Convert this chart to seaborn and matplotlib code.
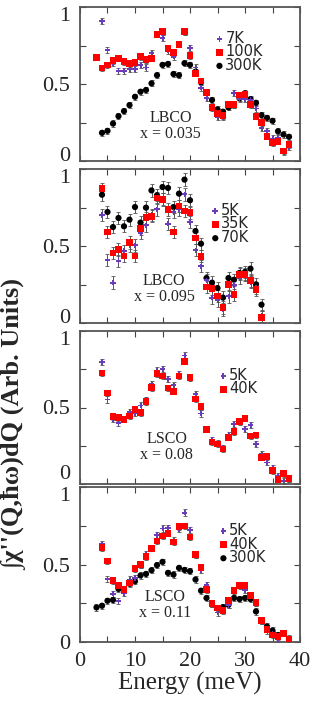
import numpy as np
import seaborn as sns
import matplotlib.pyplot as plt
import matplotlib.ticker as tkr

sns.set_style("ticks")
plt.rcParams["font.family"] = ["Liberation Serif", "DejaVu Serif"]

# panel 1: LBCO x = 0.035
p1_e_7K = list(range(4, 39))
p1_7K = [0.907, 0.72, 0.635, 0.587, 0.587, 0.596, 0.596, 0.624, 0.607, 0.70, 0.826, 0.80, 0.717, 0.678, 0.759,
         0.839, 0.733, 0.607, 0.476, 0.41, 0.348, 0.283, 0.283, 0.363, 0.443, 0.40, 0.40, 0.396, 0.341, 0.215,
         0.193, 0.146, 0.152, 0.059, 0.091]
p1_e_100K = list(range(3, 39))
p1_100K = [0.674, 0.604, 0.624, 0.652, 0.667, 0.646, 0.633, 0.641, 0.678, 0.657, 0.667, 0.824, 0.839, 0.733,
           0.704, 0.759, 0.839, 0.685, 0.57, 0.52, 0.446, 0.346, 0.309, 0.293, 0.367, 0.367, 0.428, 0.433,
           0.367, 0.291, 0.25, 0.161, 0.12, 0.128, 0.065, 0.107]
p1_e_300K = list(range(4, 39))
p1_300K = [0.183, 0.196, 0.243, 0.291, 0.324, 0.363, 0.417, 0.45, 0.461, 0.504, 0.557, 0.624, 0.63, 0.565,
           0.557, 0.635, 0.624, 0.58, 0.511, 0.446, 0.396, 0.335, 0.32, 0.348, 0.367, 0.407, 0.439, 0.402,
           0.378, 0.298, 0.28, 0.261, 0.193, 0.172, 0.157]

# panel 2: LBCO x = 0.095
p2_e = list(range(4, 34))
p2_5K = [0.70, 0.411, 0.262, 0.403, 0.468, 0.504, 0.504, 0.584, 0.634, 0.70, 0.738, 0.803, 0.645, 0.721, 0.738,
         0.835, 0.656, 0.472, 0.368, 0.277, 0.165, 0.147, 0.087, 0.173, 0.245, 0.294, 0.31, 0.266, 0.229, 0.045]
p2_35K = [0.872, 0.591, 0.455, 0.478, 0.435, 0.522, 0.435, 0.613, 0.684, 0.693, 0.812, 0.801, 0.738, 0.591,
          0.76, 0.727, 0.716, 0.552, 0.433, 0.234, 0.223, 0.175, 0.10, 0.249, 0.184, 0.316, 0.316, 0.277,
          0.216, 0.035]
p2_70K = [0.833, 0.721, 0.623, 0.682, 0.628, 0.671, 0.753, 0.652, 0.749, 0.861, 0.829, 0.883, 0.877, 0.753,
          0.84, 0.931, 0.797, 0.597, 0.515, 0.292, 0.262, 0.227, 0.165, 0.292, 0.281, 0.325, 0.331, 0.353,
          0.251, 0.119]

# panel 3: LSCO x = 0.08
p3_e = list(range(4, 39))
p3_5K = [0.797, 0.552, 0.422, 0.40, 0.422, 0.472, 0.465, 0.513, 0.548, 0.656, 0.742, 0.753, 0.688, 0.645,
         0.721, 0.84, 0.70, 0.591, 0.461, 0.357, 0.288, 0.266, 0.234, 0.32, 0.39, 0.413, 0.359, 0.385, 0.26,
         0.197, 0.141, 0.104, 0.05, 0.017, 0.032]
p3_40K = [0.725, 0.595, 0.439, 0.433, 0.422, 0.444, 0.487, 0.465, 0.537, 0.63, 0.721, 0.706, 0.628, 0.606,
          0.706, 0.803, 0.695, 0.556, 0.504, 0.357, 0.275, 0.262, 0.229, 0.305, 0.342, 0.407, 0.429, 0.314,
          0.32, 0.175, 0.18, 0.087, 0.032, 0.067, 0.035]

# panel 4: LSCO x = 0.11
p4_e = list(range(4, 39))
p4_5K = [0.63, 0.409, 0.312, 0.262, 0.316, 0.403, 0.413, 0.50, 0.569, 0.608, 0.69, 0.732, 0.734, 0.656, 0.727,
         0.835, 0.721, 0.565, 0.463, 0.366, 0.247, 0.19, 0.208, 0.24, 0.333, 0.366, 0.333, 0.305, 0.251,
         0.139, 0.074, 0.05, 0.017, 0.056, 0.024]
p4_40K = [0.608, 0.522, 0.396, 0.366, 0.338, 0.381, 0.474, 0.50, 0.55, 0.604, 0.652, 0.684, 0.701, 0.645,
          0.745, 0.749, 0.677, 0.565, 0.483, 0.338, 0.247, 0.219, 0.203, 0.268, 0.331, 0.364, 0.364, 0.299,
          0.255, 0.139, 0.082, 0.045, 0.035, 0.056, 0.019]
p4_e_300K = list(range(3, 39))
p4_300K = [0.223, 0.234, 0.266, 0.271, 0.342, 0.342, 0.377, 0.392, 0.429, 0.439, 0.463, 0.496, 0.517, 0.446,
           0.435, 0.478, 0.465, 0.457, 0.403, 0.331, 0.284, 0.247, 0.219, 0.225, 0.24, 0.284, 0.277, 0.284,
           0.277, 0.197, 0.139, 0.10, 0.074, 0.045, 0.056, 0.019]

# rough error bar size per panel
panel_err = [0.02, 0.04, 0.02, 0.02]

y_ticks = [0, 0.25, 0.5, 0.75, 1]
y_tick_labels = ["0", "", "0.5", "", "1"]

PURPLE = "#6a3db8"
styles = {
    "low": dict(marker="P", color=PURPLE, s=16, zorder=3),
    "mid": dict(marker="s", color="#ff0000", s=24, zorder=4),
    "high": dict(marker="o", color="black", s=20, zorder=2),
}

panels = [
    ([("7K", p1_e_7K, p1_7K, "low"), ("100K", p1_e_100K, p1_100K, "mid"), ("300K", p1_e_300K, p1_300K, "high")],
     "LBCO\nx = 0.035", (16.5, 0.23), (0.614, 0.71)),
    ([("5K", p2_e, p2_5K, "low"), ("35K", p2_e, p2_35K, "mid"), ("70K", p2_e, p2_70K, "high")],
     "LBCO\nx = 0.095", (15.3, 0.22), (0.595, 0.643)),
    ([("5K", p3_e, p3_5K, "low"), ("40K", p3_e, p3_40K, "mid")],
     "LSCO\nx = 0.08", (15.8, 0.24), (0.632, 0.667)),
    ([("5K", p4_e, p4_5K, "low"), ("40K", p4_e, p4_40K, "mid"), ("300K", p4_e_300K, p4_300K, "high")],
     "LSCO\nx = 0.11", (15.5, 0.24), (0.632, 0.632)),
]

# axes boxes in pixels (top, bottom), figure is 319 x 702
boxes = [(7, 161), (169, 323), (331, 484), (487, 642)]
W, H = 319, 702

fig = plt.figure(figsize=(3.19, 7.02), dpi=100)

for i, (series, label, txt_pos, leg_pos) in enumerate(panels):
    top, bot = boxes[i]
    ax = fig.add_axes([80 / W, 1 - bot / H, 220 / W, (bot - top) / H])
    for name, e, vals, kind in series:
        st = styles[kind]
        ax.errorbar(e, vals, yerr=panel_err[i], fmt="none", ecolor="#555555",
                    elinewidth=0.7, capsize=1.2, capthick=0.6, zorder=1)
        sns.scatterplot(x=e, y=vals, ax=ax, marker=st["marker"], color=st["color"], s=st["s"],
                        edgecolor="none", linewidth=0, zorder=st["zorder"], label=name)
    ax.set_xlim(0, 40)
    ax.set_ylim(0, 1)
    ax.xaxis.set_major_locator(tkr.MultipleLocator(10))
    ax.xaxis.set_minor_locator(tkr.MultipleLocator(5))
    ax.set_yticks(y_ticks)
    ax.set_yticklabels(y_tick_labels)
    ax.tick_params(axis="both", which="both", direction="in", top=True, right=True,
                   length=4, width=0.8, color="#444444", labelsize=16, pad=7)
    tl = ax.get_yticklabels()
    if i < 2:
        tl[0].set_va("baseline")
    elif i == 2:
        tl[0].set_va("bottom")
    tl[-1].set_va("top")
    if i < 3:
        ax.tick_params(axis="x", labelbottom=False)
    for sp in ax.spines.values():
        sp.set_color("#555555")
        sp.set_linewidth(1.3)
    ax.set_xlabel("")
    ax.set_ylabel("")
    ax.text(txt_pos[0], txt_pos[1], label, ha="center", va="center", fontsize=11.5, linespacing=1.0)
    ax.legend(loc="center left", bbox_to_anchor=leg_pos, frameon=False, handlelength=0.6,
              handletextpad=0.1, labelspacing=-0.1, borderpad=0, borderaxespad=0,
              prop={"family": "DejaVu Sans", "size": 10.5})

fig.text(190 / W, 1 - 683 / H, "Energy (meV)", ha="center", va="center", fontsize=18)
fig.text(15 / W, 1 - 424 / H, "∫χ''(Q,ħω)dQ (Arb. Units)", ha="center", va="center",
         rotation=90, fontsize=19, fontweight="bold")

plt.savefig("out.png", dpi=100)
